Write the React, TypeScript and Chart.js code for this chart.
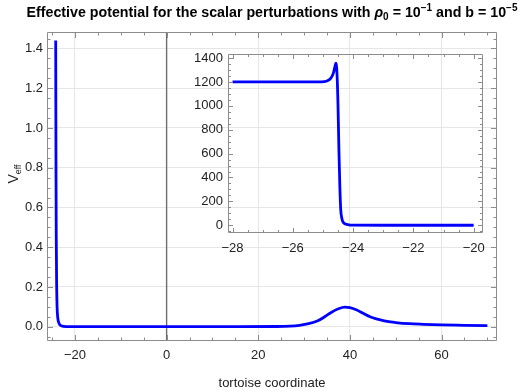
import React, { useEffect, useRef } from "react";
import { Chart, registerables } from "chart.js";

Chart.register(...registerables);

// ---- data ----
const mainX = [-24.2, -24.17, -24.13, -24.08, -24.0, -23.9, -23.75, -23.5, -23.1, -22.5, -21, -15, 0, 15, 24, 27, 29, 31, 33, 34.5, 36, 37.5, 38.9, 40, 41.5, 43, 44.4, 46, 47.5, 50, 53, 56, 60, 65, 70];
const mainY = [1.44, 1.1, 0.75, 0.45, 0.22, 0.1, 0.045, 0.018, 0.006, 0.002, 0.0006, 0.0002, 0.0002, 0.0003, 0.001, 0.003, 0.007, 0.015, 0.03, 0.05, 0.073, 0.09, 0.098, 0.096, 0.084, 0.066, 0.05, 0.038, 0.029, 0.021, 0.015, 0.012, 0.009, 0.007, 0.005];

const insetX = [-28, -26, -25.2, -24.95, -24.85, -24.75, -24.66, -24.6, -24.57, -24.53, -24.5, -24.47, -24.44, -24.41, -24.37, -24.33, -24.25, -24.15, -24.0, -23.0, -20];
const insetY = [1200, 1200, 1200, 1203, 1210, 1228, 1270, 1330, 1358, 1250, 1000, 630, 330, 130, 55, 25, 10, 4, 1, 0, 0];

const mainXTicks = [-20, 0, 20, 40, 60];
const mainYTicks = [0, 0.2, 0.4, 0.6, 0.8, 1.0, 1.2, 1.4];
const insetXTicks = [-28, -26, -24, -22, -20];
const insetYTicks = [0, 200, 400, 600, 800, 1000, 1200, 1400];

const titleParts = [
  { t: "Effective potential for the scalar perturbations with ", italic: false, small: false, dy: 0 },
  { t: "ρ", italic: true, small: false, dy: 0 },
  { t: "0", italic: false, small: true, dy: 3 },
  { t: " = 10", italic: false, small: false, dy: 0 },
  { t: "−1", italic: false, small: true, dy: -6 },
  { t: " and b = 10", italic: false, small: false, dy: 0 },
  { t: "−5", italic: false, small: true, dy: -6 },
];
const xAxisTitle = "tortoise coordinate";
const yAxisTitleMain = "V";
const yAxisTitleSub = "eff";

const FONT = "'Liberation Sans', Arial, sans-serif";

function fmt(v: number, digits = 0) {
  const s = Math.abs(v).toFixed(digits);
  return v < 0 ? "\u2212" + s : s;
}

function framePlugin(id: string, xStep: number, yStep: number, majorLen: number, minorLen: number, xMajor: number[], yMajor: number[]) {
  return {
    id,
    afterDatasetsDraw(chart: any) {
      const { ctx, chartArea: a, scales } = chart;
      const x = scales.x, y = scales.y;
      ctx.save();
      ctx.strokeStyle = "#8c8c8c";
      ctx.lineWidth = 1;
      ctx.beginPath();
      ctx.rect(Math.round(a.left) + 0.5, Math.round(a.top) + 0.5, Math.round(a.right) - Math.round(a.left) - 1, Math.round(a.bottom) - Math.round(a.top) - 1);
      ctx.stroke();
      ctx.beginPath();
      const isMajor = (arr: number[], v: number) => arr.some((m) => Math.abs(m - v) < 1e-9);
      const x0 = Math.ceil(x.min / xStep) * xStep;
      for (let v = x0; v <= x.max + 1e-9; v += xStep) {
        const vv = Math.round(v / xStep) * xStep;
        const px = Math.round(x.getPixelForValue(vv)) + 0.5;
        const len = isMajor(xMajor, vv) ? majorLen : minorLen;
        ctx.moveTo(px, a.bottom);
        ctx.lineTo(px, a.bottom - len);
        ctx.moveTo(px, a.top);
        ctx.lineTo(px, a.top + len);
      }
      const y0 = Math.ceil(y.min / yStep) * yStep;
      for (let v = y0; v <= y.max + 1e-9; v += yStep) {
        const vv = Math.round(v / yStep) * yStep;
        const py = Math.round(y.getPixelForValue(vv)) + 0.5;
        const len = isMajor(yMajor, vv) ? majorLen : minorLen;
        ctx.moveTo(a.left, py);
        ctx.lineTo(a.left + len, py);
        ctx.moveTo(a.right, py);
        ctx.lineTo(a.right - len, py);
      }
      ctx.stroke();
      ctx.restore();
    },
  };
}

const axisPlugin = {
  id: "zeroAxis",
  beforeDatasetsDraw(chart: any) {
    const { ctx, chartArea: a, scales } = chart;
    const px = scales.x.getPixelForValue(0);
    ctx.save();
    ctx.strokeStyle = "#6e6e6e";
    ctx.lineWidth = 1.4;
    ctx.beginPath();
    ctx.moveTo(px, a.top);
    ctx.lineTo(px, a.bottom);
    ctx.stroke();
    ctx.restore();
  },
};

const textPlugin = {
  id: "texts",
  afterDraw(chart: any) {
    const { ctx, chartArea: a } = chart;
    ctx.save();
    ctx.fillStyle = "#000";
    // title
    const base = 15;
    const fontFor = (p: any, size: number) =>
      `${p.italic ? "italic " : ""}bold ${p.small ? Math.round(size * 0.68) : size}px ${FONT}`;
    let w = 0;
    for (const p of titleParts) {
      ctx.font = fontFor(p, base);
      w += ctx.measureText(p.t).width;
    }
    const target = 490;
    const size = Math.min(16, base * (target / w));
    let tw = 0;
    for (const p of titleParts) {
      ctx.font = fontFor(p, size);
      tw += ctx.measureText(p.t).width;
    }
    let cx = (a.left + a.right) / 2 - tw / 2;
    ctx.textBaseline = "alphabetic";
    ctx.textAlign = "left";
    for (const p of titleParts) {
      ctx.font = fontFor(p, size);
      ctx.fillText(p.t, cx, 17 + p.dy);
      cx += ctx.measureText(p.t).width;
    }
    // x axis title
    ctx.fillStyle = "#222";
    ctx.font = `13px ${FONT}`;
    ctx.textAlign = "center";
    ctx.textBaseline = "middle";
    ctx.fillText(xAxisTitle, (a.left + a.right) / 2, 383);
    // y axis title
    ctx.translate(18, 174);
    ctx.rotate(-Math.PI / 2);
    ctx.textAlign = "left";
    ctx.textBaseline = "alphabetic";
    ctx.font = `14px ${FONT}`;
    const vw = ctx.measureText(yAxisTitleMain).width;
    ctx.font = `9px ${FONT}`;
    const sw = ctx.measureText(yAxisTitleSub).width;
    const start = -(vw + sw) / 2;
    ctx.font = `14px ${FONT}`;
    ctx.fillText(yAxisTitleMain, start, 0);
    ctx.font = `9px ${FONT}`;
    ctx.fillText(yAxisTitleSub, start + vw, 3);
    ctx.restore();
  },
};

export default function App() {
  const mainRef = useRef<HTMLCanvasElement>(null);
  const insetRef = useRef<HTMLCanvasElement>(null);

  useEffect(() => {
    const tickFont = { family: FONT, size: 13 };
    const main = new Chart(mainRef.current as HTMLCanvasElement, {
      type: "line",
      data: {
        datasets: [
          {
            data: mainX.map((x, i) => ({ x, y: mainY[i] })),
            borderColor: "#0000ff",
            borderWidth: 2.8,
            pointRadius: 0,
            cubicInterpolationMode: "monotone",
            fill: false,
          },
        ],
      },
      options: {
        responsive: false,
        animation: false,
        devicePixelRatio: 1,
        events: [],
        layout: { padding: { top: 32, right: 26, left: 0, bottom: 0 } },
        plugins: { legend: { display: false }, tooltip: { enabled: false }, title: { display: false } },
        scales: {
          x: {
            type: "linear",
            min: -26.1,
            max: 72.1,
            afterBuildTicks: (s: any) => {
              s.ticks = mainXTicks.map((v) => ({ value: v }));
            },
            afterFit: (s: any) => {
              s.height = 51;
            },
            grid: { color: "#e6e6e6", drawTicks: false, lineWidth: 1 },
            border: { display: false },
            ticks: { padding: 7, color: "#222", font: tickFont, maxRotation: 0, autoSkip: false, callback: (v: any) => fmt(Number(v)) },
          },
          y: {
            type: "linear",
            min: -0.072,
            max: 1.483,
            afterBuildTicks: (s: any) => {
              s.ticks = mainYTicks.map((v) => ({ value: v }));
            },
            afterFit: (s: any) => {
              s.width = 47;
            },
            grid: { color: "#e6e6e6", drawTicks: false, lineWidth: 1 },
            border: { display: false },
            ticks: { padding: 4, color: "#222", font: tickFont, autoSkip: false, callback: (v: any) => fmt(Number(v), 1) },
          },
        },
      },
      plugins: [axisPlugin, framePlugin("mainFrame", 5, 0.05, 6, 3.5, mainXTicks, mainYTicks), textPlugin],
    } as any);

    const inset = new Chart(insetRef.current as HTMLCanvasElement, {
      type: "line",
      data: {
        datasets: [
          {
            data: insetX.map((x, i) => ({ x, y: insetY[i] })),
            borderColor: "#0000ff",
            borderWidth: 2.8,
            pointRadius: 0,
            cubicInterpolationMode: "monotone",
            fill: false,
          },
        ],
      },
      options: {
        responsive: false,
        animation: false,
        devicePixelRatio: 1,
        events: [],
        layout: { padding: { top: 54, right: 40, left: 190, bottom: 134 } },
        plugins: { legend: { display: false }, tooltip: { enabled: false }, title: { display: false } },
        scales: {
          x: {
            type: "linear",
            min: -28.15,
            max: -19.69,
            afterBuildTicks: (s: any) => {
              s.ticks = insetXTicks.map((v) => ({ value: v }));
            },
            afterFit: (s: any) => {
              s.height = 25;
            },
            grid: { display: false, drawTicks: false },
            border: { display: false },
            ticks: { padding: 8, color: "#222", font: tickFont, maxRotation: 0, autoSkip: false, callback: (v: any) => fmt(Number(v)) },
          },
          y: {
            type: "linear",
            min: -65,
            max: 1434,
            afterBuildTicks: (s: any) => {
              s.ticks = insetYTicks.map((v) => ({ value: v }));
            },
            afterFit: (s: any) => {
              s.width = 38;
            },
            grid: { display: false, drawTicks: false },
            border: { display: false },
            ticks: { padding: 5, color: "#222", font: tickFont, autoSkip: false, callback: (v: any) => fmt(Number(v)) },
          },
        },
      },
      plugins: [framePlugin("insetFrame", 0.5, 50, 5, 3, insetXTicks, insetYTicks)],
    } as any);

    return () => {
      main.destroy();
      inset.destroy();
    };
  }, []);

  return (
    <div style={{ position: "fixed", left: 0, top: 0, width: 523, height: 392, background: "#fff" }}>
      <canvas ref={mainRef} width={523} height={392} style={{ position: "absolute", left: 0, top: 0, width: 523, height: 392 }} />
      <canvas ref={insetRef} width={523} height={392} style={{ position: "absolute", left: 0, top: 0, width: 523, height: 392 }} />
    </div>
  );
}
